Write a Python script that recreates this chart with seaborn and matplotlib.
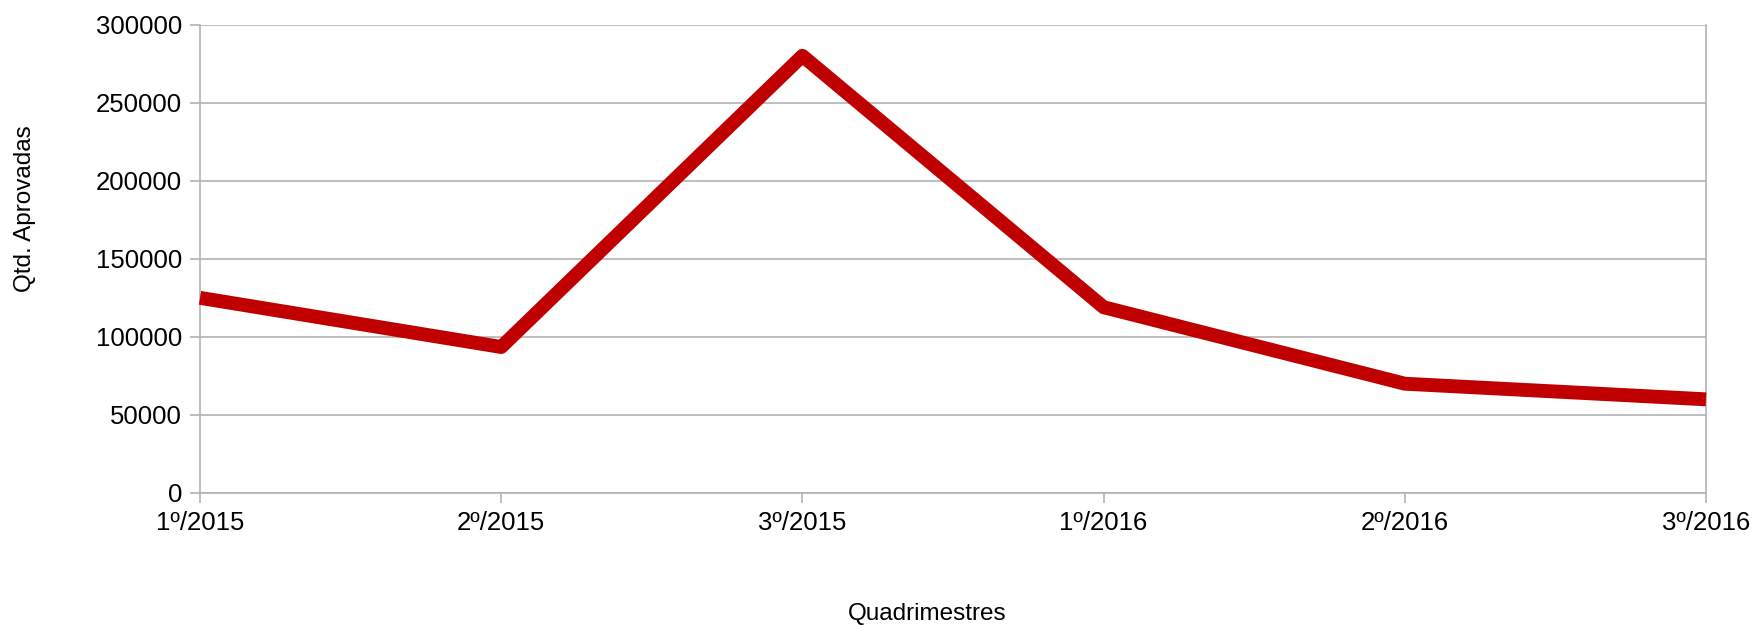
import pandas as pd
import matplotlib
matplotlib.use("Agg")
import matplotlib.pyplot as plt
import seaborn as sns

# dados
quadrimestres = ["1º/2015", "2º/2015", "3º/2015", "1º/2016", "2º/2016", "3º/2016"]
aprovadas = [125000, 93500, 280000, 119000, 70000, 60000]
y_ticks = [0, 50000, 100000, 150000, 200000, 250000, 300000]

sns.set_style("white")
plt.rcParams['font.family'] = ['Liberation Sans', 'DejaVu Sans']

df = pd.DataFrame({'quadrimestre': quadrimestres, 'aprovadas': aprovadas})

fig = plt.figure(figsize=(17.54, 6.25), dpi=100)
ax = fig.add_axes([200 / 1754, 1 - 493 / 625, 1506 / 1754, (493 - 24.6) / 625])

grid_color = '#b3b3b3'
for v in y_ticks:
    ax.axhline(v, color=grid_color, lw=1.2, zorder=1)

sns.lineplot(data=df, x='quadrimestre', y='aprovadas', color='#c00000', lw=10,
             ax=ax, sort=False, zorder=3, clip_on=False,
             solid_capstyle='butt', solid_joinstyle='round')

ax.set_xlim(0, len(quadrimestres) - 1)
ax.set_ylim(0, 300000)
ax.set_yticks(y_ticks)
ax.set_yticklabels([str(v) for v in y_ticks])

for side in ['left', 'right', 'bottom']:
    ax.spines[side].set_visible(True)
    ax.spines[side].set_color(grid_color)
    ax.spines[side].set_linewidth(1.2)
ax.spines['top'].set_visible(False)

ax.tick_params(axis='both', which='major', labelsize=18.5, colors=grid_color,
               labelcolor='black', length=7, width=1.2)
ax.tick_params(axis='y', left=True, pad=6)
ax.tick_params(axis='x', bottom=True, pad=6)

ax.set_xlabel('Quadrimestres', fontsize=17.5, color='black')
ax.set_ylabel('Qtd. Aprovadas', fontsize=17.5, color='black')
ax.xaxis.set_label_coords(0.483, -0.235)
ax.yaxis.set_label_coords(-0.109, 0.607)

fig.savefig('out.png', dpi=100)
